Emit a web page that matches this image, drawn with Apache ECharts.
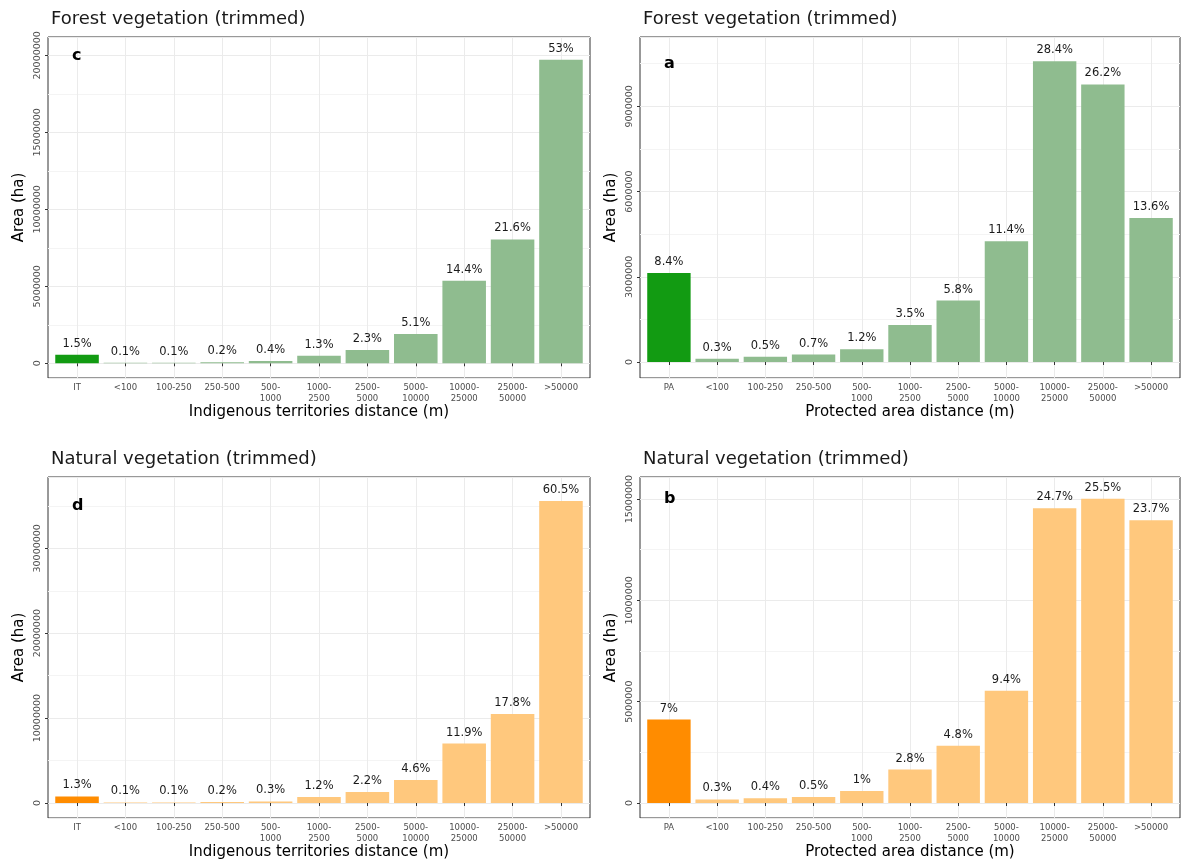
<!DOCTYPE html>
<html>
<head>
<meta charset="utf-8">
<title>Vegetation area by distance class</title>
<script src="https://cdn.jsdelivr.net/npm/echarts@6/dist/echarts.min.js"></script>
<style>
  html, body { margin: 0; padding: 0; background: #ffffff; }
  #chart { width: 1182px; height: 864px; }
</style>
</head>
<body>
<div id="chart"></div>
<script>
// Distance classes (first class = inside the territory / protected area)
const distanceClasses = ['<100', '100-250', '250-500', '500-\n1000', '1000-\n2500', '2500-\n5000',
  '5000-\n10000', '10000-\n25000', '25000-\n50000', '>50000'];
const categoriesIT = ['IT'].concat(distanceClasses);
const categoriesPA = ['PA'].concat(distanceClasses);

// Forest vegetation vs. indigenous territories (c)
const forestITArea = [558000, 37000, 40000, 74000, 149000, 484000, 856000, 1900000, 5360000, 8040000, 19720000];
const forestITPct = ['1.5', '0.1', '0.1', '0.2', '0.4', '1.3', '2.3', '5.1', '14.4', '21.6', '53'];

// Forest vegetation vs. protected areas (a)
const forestPAArea = [3130000, 112000, 186000, 261000, 448000, 1306000, 2163000, 4252000, 10590000, 9770000, 5070000];
const forestPAPct = ['8.4', '0.3', '0.5', '0.7', '1.2', '3.5', '5.8', '11.4', '28.4', '26.2', '13.6'];

// Natural vegetation vs. indigenous territories (d)
const naturalITArea = [764000, 59000, 59000, 118000, 176000, 706000, 1294000, 2705000, 7000000, 10470000, 35570000];
const naturalITPct = ['1.3', '0.1', '0.1', '0.2', '0.3', '1.2', '2.2', '4.6', '11.9', '17.8', '60.5'];

// Natural vegetation vs. protected areas (b)
const naturalPAArea = [4120000, 177000, 236000, 295000, 589000, 1650000, 2830000, 5540000, 14550000, 15020000, 13960000];
const naturalPAPct = ['7', '0.3', '0.4', '0.5', '1', '2.8', '4.8', '9.4', '24.7', '25.5', '23.7'];

const FONT = 'DejaVu Sans';
const GREEN_HI = '#129b12', GREEN = '#8fbc8f';
const ORANGE_HI = '#ff8c00', ORANGE = '#ffc87d';

const panels = [
  { title: 'Forest vegetation (trimmed)', letter: 'c', xName: 'Indigenous territories distance (m)',
    cats: categoriesIT, area: forestITArea, pct: forestITPct, hi: GREEN_HI, base: GREEN,
    rect: [48, 37, 542, 341], yMin: -955000, yMax: 21190000, split: 5, letterY: 57 },
  { title: 'Forest vegetation (trimmed)', letter: 'a', xName: 'Protected area distance (m)',
    cats: categoriesPA, area: forestPAArea, pct: forestPAPct, hi: GREEN_HI, base: GREEN,
    rect: [640, 37, 540, 341], yMin: -563000, yMax: 11440000, split: 4, letterY: 65 },
  { title: 'Natural vegetation (trimmed)', letter: 'd', xName: 'Indigenous territories distance (m)',
    cats: categoriesIT, area: naturalITArea, pct: naturalITPct, hi: ORANGE_HI, base: ORANGE,
    rect: [48, 477, 542, 341], yMin: -1770000, yMax: 38400000, split: 4, letterY: 507 },
  { title: 'Natural vegetation (trimmed)', letter: 'b', xName: 'Protected area distance (m)',
    cats: categoriesPA, area: naturalPAArea, pct: naturalPAPct, hi: ORANGE_HI, base: ORANGE,
    rect: [640, 477, 540, 341], yMin: -740000, yMax: 16090000, split: 3, letterY: 500 }
];

const grid = [], xAxis = [], yAxis = [], series = [], title = [], graphic = [];

panels.forEach((p) => {
  const [L, T, W, H] = p.rect;
  const unit = W / 11.2;              // discrete scale with 0.6 padding on each side
  const inset = unit * 0.1;

  // full panel: border, y axis and horizontal grid lines
  const gFull = grid.length;
  grid.push({ left: L, top: T, width: W, height: H, show: true, borderColor: '#333333', borderWidth: 1,
    backgroundColor: 'transparent', containLabel: false });
  // inset: category bars
  const gBars = grid.length;
  grid.push({ left: L + inset, top: T, width: W - 2 * inset, height: H, containLabel: false });

  xAxis.push({ gridIndex: gFull, type: 'value', min: 0, max: 1, show: false });
  yAxis.push({
    gridIndex: gFull, type: 'value', min: p.yMin, max: p.yMax, splitNumber: p.split,
    name: 'Area (ha)', nameLocation: 'middle', nameGap: 21, nameRotate: 90,
    nameTextStyle: { fontFamily: FONT, fontSize: 15, color: '#000000' },
    axisLine: { show: false },
    axisTick: { show: true, length: 3, lineStyle: { color: '#333333' } },
    axisLabel: { rotate: 90, margin: 5, fontFamily: FONT, fontSize: 9.5, color: '#4d4d4d',
      showMinLabel: false, showMaxLabel: false, formatter: v => String(Math.round(v)) },
    splitLine: { show: true, lineStyle: { color: '#ebebeb', width: 1 } },
    minorTick: { show: false, splitNumber: 2 },
    minorSplitLine: { show: true, lineStyle: { color: '#f4f4f4', width: 1 } }
  });

  const xi = xAxis.length;
  xAxis.push({
    gridIndex: gBars, type: 'category', data: p.cats, boundaryGap: true,
    name: p.xName, nameLocation: 'middle', nameGap: 27,
    nameTextStyle: { fontFamily: FONT, fontSize: 15, color: '#000000' },
    axisLine: { show: false },
    axisTick: { show: true, alignWithLabel: true, length: 3, lineStyle: { color: '#333333' } },
    axisLabel: { interval: 0, margin: 5, fontFamily: FONT, fontSize: 8.5, lineHeight: 10.5, color: '#4d4d4d' },
    splitLine: { show: true, alignWithLabel: true, lineStyle: { color: '#ebebeb', width: 1 } }
  });
  const yi = yAxis.length;
  yAxis.push({ gridIndex: gBars, type: 'value', min: p.yMin, max: p.yMax, splitNumber: p.split, show: false,
    splitLine: { show: false } });

  series.push({
    type: 'bar', xAxisIndex: xi, yAxisIndex: yi, barWidth: '90%', z: 3,
    data: p.area.map((v, i) => ({ value: v, itemStyle: { color: i === 0 ? p.hi : p.base } })),
    label: { show: true, position: 'top', distance: 5, fontFamily: FONT, fontSize: 11.5, color: '#1a1a1a',
      formatter: prm => p.pct[prm.dataIndex] + '%' },
    emphasis: { disabled: true }
  });

  title.push({ text: p.title, left: L - 2, top: T - 32,
    textStyle: { fontFamily: FONT, fontSize: 18, fontWeight: 'normal', color: '#1a1a1a' } });

  graphic.push({ type: 'text', left: L + 0.6 * unit - 5, top: p.letterY - 9, z: 10,
    style: { text: p.letter, fontFamily: FONT, fontSize: 16, fontWeight: 'bold', fill: '#000000' } });
});

const chart = echarts.init(document.getElementById('chart'), null, { renderer: 'canvas' });
chart.setOption({
  animation: false,
  backgroundColor: '#ffffff',
  textStyle: { fontFamily: FONT },
  title, grid, xAxis, yAxis, series, graphic
});
</script>
</body>
</html>
